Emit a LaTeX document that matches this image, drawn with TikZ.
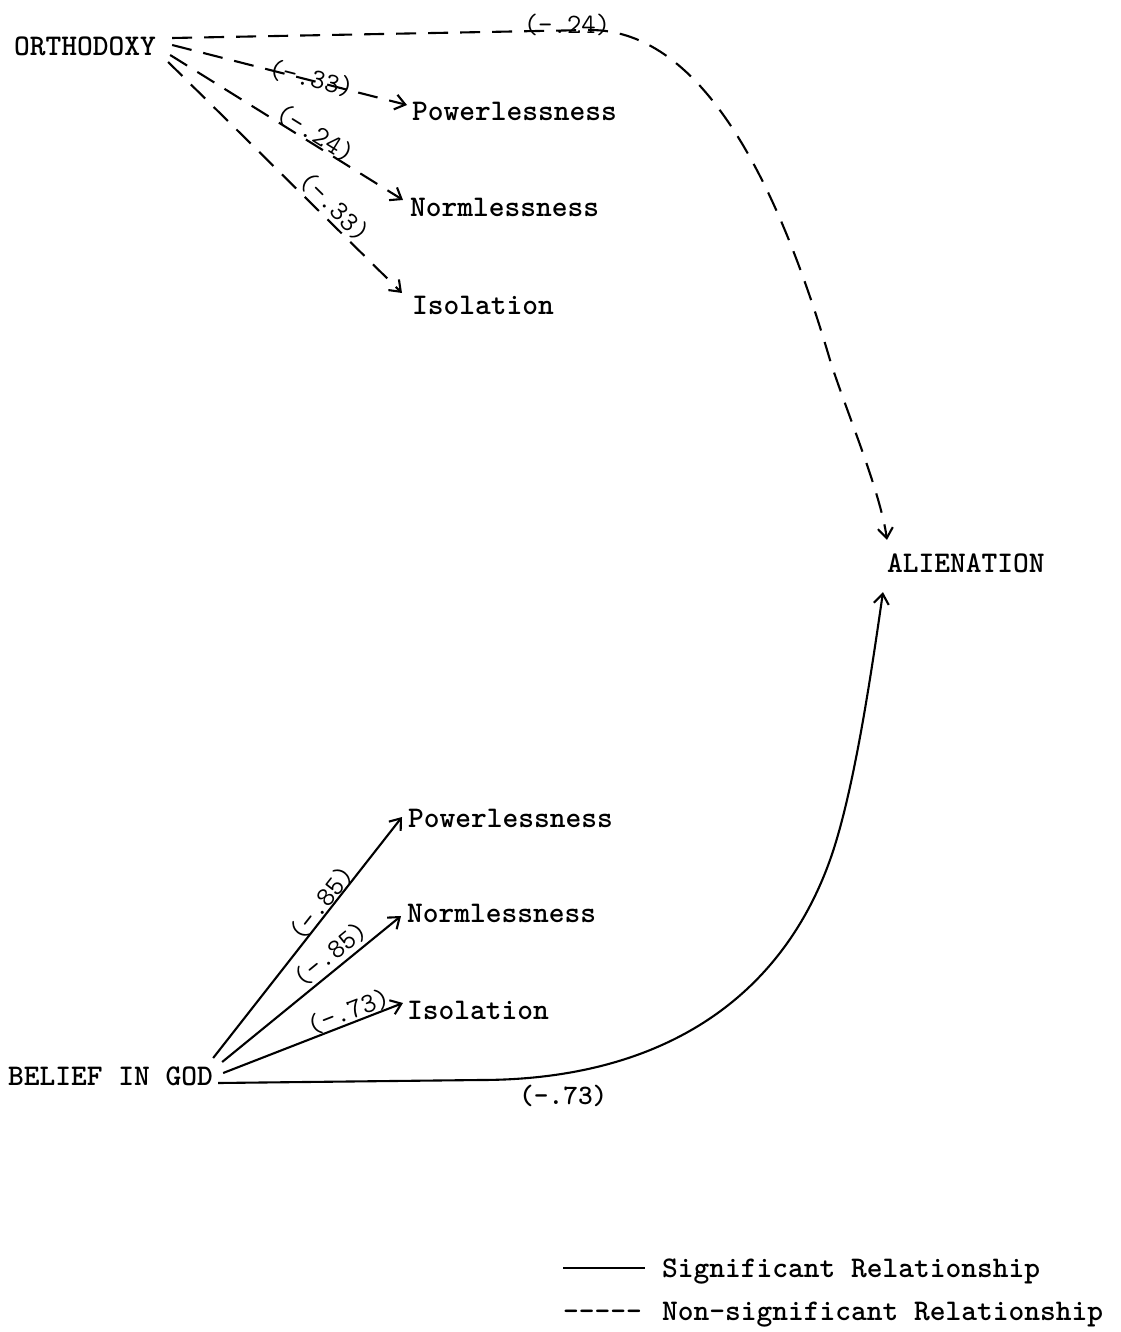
\documentclass[tikz,border=0pt]{standalone}
\usetikzlibrary{arrows.meta,calc}
\begin{document}
\begin{tikzpicture}[x=1pt,y=-1pt,
  txt/.style={font=\fontsize{30}{36}\selectfont\ttfamily\bfseries, inner sep=0pt, text height=18pt, text depth=0pt, anchor=base west},
  val/.style={font=\fontsize{28}{34}\selectfont\ttfamily, inner sep=0pt},
  sig/.style={line width=2.1pt, -{Straight Barb[length=10pt,width=15pt]}},
  nsig/.style={sig, dash pattern=on 20pt off 12pt},
  plain/.style={line width=2.1pt}
]
\useasboundingbox (0,0) rectangle (1120,1332);

% text nodes
\node[txt] (orth)  at (14,56)    {ORTHODOXY};
\node[txt] (pow1)  at (412,121)  {Powerlessness};
\node[txt] (norm1) at (410,217)  {Normlessness};
\node[txt] (iso1)  at (412,314)  {Isolation};
\node[txt] (alien) at (887,572)  {ALIENATION};
\node[txt] (pow2)  at (408,827)  {Powerlessness};
\node[txt] (norm2) at (407,922)  {Normlessness};
\node[txt] (iso2)  at (407,1019) {Isolation};
\node[txt] (god)   at (8,1085)   {BELIEF IN GOD};
\node[txt, font=\fontsize{28}{34}\selectfont\ttfamily\bfseries] (l73) at (519,1104) {(-.73)};

% legend
\node[txt] (sigtxt)  at (662,1277) {Significant Relationship};
\node[txt] (nsigtxt) at (662,1320) {Non-significant Relationship};
\node[txt] (dashes)  at (563,1320) {{-}{-}{-}{-}{-}};
\coordinate (legA) at ($(sigtxt.west)+(-99,0)$);
\coordinate (legB) at ($(sigtxt.west)+(-17,0)$);
\draw[plain] (legA) -- (legB);

% ORTHODOXY connectors (non-significant)
\draw[nsig] ($(orth.east)+(16,-9)$) -- node[val, pos=0.945, above=-6pt] {(-.24)} (590,30)
  .. controls (705,30) and (780,190) .. (830,360)
  .. controls (845,408) and (880,490) .. ($(alien.north west)+(0,-14)$);
\draw[nsig] ($(orth.east)+(16,-2)$) -- node[val, sloped, pos=0.59, above=-10pt] {(-.33)} ($(pow1.west)+(-5,-7)$);
\draw[nsig] ($(orth.east)+(14,8)$) -- node[val, sloped, pos=0.60, above=-2pt] {(-.24)} ($(norm1.west)+(-7,-8)$);
\draw[nsig] ($(orth.east)+(12,15)$) -- node[val, sloped, pos=0.67, above=2pt] {(-.33)} ($(iso1.west)+(-10,-12)$);

% BELIEF IN GOD connectors (significant)
\draw[sig] ($(god.east)+(0,-18)$) -- node[val, sloped, pos=0.617, above=-2pt] {(-.85)} ($(pow2.west)+(-6,-1)$);
\draw[sig] ($(god.east)+(9,-14)$) -- node[val, sloped, pos=0.66, above=3pt] {(-.85)} ($(norm2.west)+(-6,3)$);
\draw[sig] ($(god.east)+(10,-3)$) -- node[val, sloped, pos=0.72, above=0pt] {(-.73)} ($(iso2.west)+(-4,-7)$);
\draw[sig] ($(god.east)+(5,7)$) -- (480,1080)
  .. controls (660,1080) and (780,1000) .. (830,860)
  .. controls (855,790) and (873,660) .. ($(alien.south west)+(-4,20)$);
\end{tikzpicture}
\end{document}
